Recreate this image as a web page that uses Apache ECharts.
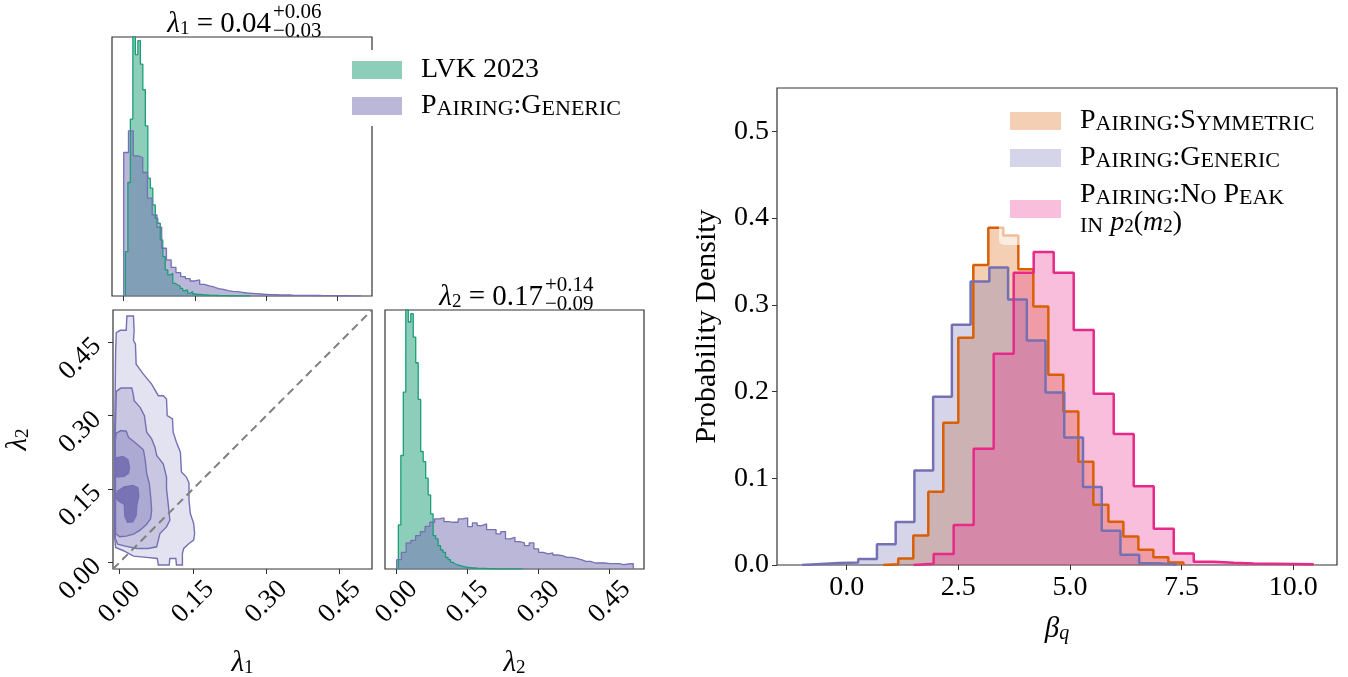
<!DOCTYPE html>
<html>
<head>
<meta charset="utf-8">
<script src="https://cdn.jsdelivr.net/npm/echarts@6/dist/echarts.min.js"></script>
<style>
html, body { margin: 0; padding: 0; background: #fff; }
#container { width: 1348px; height: 677px; }
</style>
</head>
<body>
<div id="container"></div>
<script>
// ---- right panel: beta_q histograms, 20 equal bins each (density) ----
var symRange = [0.82, 7.54];
var symDensity = [0.001, 0.0076, 0.034, 0.0845, 0.164, 0.262, 0.346, 0.389, 0.380, 0.341,
    0.298, 0.2195, 0.177, 0.119, 0.0696, 0.050, 0.033, 0.0177, 0.0088, 0.003];
var genRange = [-1.0, 7.39];
var genDensity = [0.0012, 0.0023, 0.003, 0.0069, 0.024, 0.0496, 0.109, 0.194, 0.277, 0.327,
    0.343, 0.306, 0.259, 0.199, 0.147, 0.090, 0.0396, 0.0119, 0.0019, 0.0006];
var noPeakRange = [1.50, 10.46];
var noPeakDensity = [0.0015, 0.0127, 0.046, 0.134, 0.2437, 0.337, 0.361, 0.337, 0.271, 0.1976,
    0.151, 0.0907, 0.0419, 0.0134, 0.0038, 0.0027, 0.0018, 0.0015, 0.0012, 0.0008];
var betaTicks = [0, 2.5, 5, 7.5, 10];
var densityTicks = [0, 0.1, 0.2, 0.3, 0.4, 0.5];

// ---- corner plot: lambda histograms, 50 equal bins each (relative counts) ----
var lvkLam1Range = [0.0035, 0.266];
var lvkLam1Counts = [133, 340, 530, 800, 723, 765, 695, 618, 510, 353,
    323, 273, 233, 218, 168, 118, 78, 63, 68, 38,
    33, 30, 23, 16, 18, 8, 13, 6, 5, 5,
    4, 3, 3, 2, 2, 2, 1.5, 1, 1, 1,
    1, 0.8, 0.6, 0.5, 0.5, 0.4, 0.3, 0.3, 0.2, 0.2];
var genLam1Range = [0, 0.5];
var genLam1Counts = [430, 495, 420, 415, 370, 293, 243, 206, 143, 108,
    86, 70, 58, 52, 45, 48, 35, 30, 27, 22,
    20, 16, 14, 13, 11, 9, 8, 7, 6, 5,
    4, 4, 3, 3, 3, 2, 2, 2, 2, 1.5,
    1.5, 1.2, 1, 1, 1, 0.8, 0.8, 0.6, 0.6, 0.5];
var lvkLam2Range = [0.0035, 0.266];
var lvkLam2Counts = [132, 340, 530, 800, 740, 765, 695, 618, 508, 352,
    322, 272, 222, 165, 100, 90, 70, 57, 50, 35,
    28, 20, 15, 12, 10, 8, 6, 5, 4, 3,
    3, 2, 2, 2, 1.5, 1, 1, 1, 0.8, 0.6,
    0.5, 0.5, 0.4, 0.3, 0.3, 0.2, 0.2, 0.2, 0.1, 0.1];
var genLam2Range = [0, 0.5];
var genLam2Counts = [28, 50, 78, 86, 100, 112, 128, 140, 150, 153,
    142, 140, 140, 150, 153, 127, 138, 130, 135, 118,
    118, 105, 112, 90, 95, 82, 78, 70, 78, 60,
    50, 45, 48, 42, 40, 35, 35, 32, 28, 23,
    23, 18, 18, 18, 16, 16, 16, 13, 15, 16];
var lamTicks = [0, 0.15, 0.3, 0.45];

// ---- 2D credible contours of Pairing:Generic in (lambda1, lambda2), outer to inner ----
var contourOuter = [[0.0149, 0.5037], [0.0284, 0.5037], [0.0297, 0.4732], [0.0284, 0.4542], [0.0324, 0.4460],
    [0.0338, 0.4053], [0.0486, 0.3849], [0.0655, 0.3646], [0.0791, 0.3408], [0.0892, 0.3408],
    [0.0959, 0.3340], [0.0973, 0.3001], [0.1081, 0.2933], [0.1095, 0.2661], [0.1162, 0.2458],
    [0.1243, 0.2254], [0.1264, 0.1847], [0.1365, 0.1745], [0.1419, 0.1623], [0.1419, 0.1270],
    [0.1446, 0.0998], [0.1514, 0.0794], [0.1534, 0.0591], [0.1514, 0.0455], [0.1419, 0.0387],
    [0.1311, 0.0285], [0.1284, 0.0183], [0.1284, -0.0054], [0.1162, -0.0054], [0.1149, 0.0081],
    [0.1027, 0.0081], [0.1014, -0.0054], [0.0791, -0.0054], [0.0770, 0.0081], [0.0554, 0.0102],
    [0.0284, 0.0129], [0.0081, 0.0238], [-0.0081, 0.0306], [-0.0108, 0.0591], [-0.0101, 0.2627],
    [-0.0081, 0.4325], [-0.0068, 0.4698], [0.0014, 0.4745], [0.0135, 0.4745]];
var contourMid = [[-0.0068, 0.3496], [0.0027, 0.3564], [0.0250, 0.3564], [0.0284, 0.3408], [0.0297, 0.3306],
    [0.0419, 0.3170], [0.0507, 0.3001], [0.0554, 0.2661], [0.0655, 0.2525], [0.0723, 0.2356],
    [0.0757, 0.2186], [0.0892, 0.2016], [0.0959, 0.1745], [0.0959, 0.1507], [0.0993, 0.1202],
    [0.1027, 0.0862], [0.0959, 0.0726], [0.0824, 0.0591], [0.0757, 0.0319], [0.0588, 0.0285],
    [0.0351, 0.0285], [0.0115, 0.0333], [-0.0041, 0.0373], [-0.0088, 0.0489], [-0.0088, 0.2627]];
var contourInner = [[-0.0068, 0.2641], [0.0027, 0.2695], [0.0135, 0.2682], [0.0182, 0.2559], [0.0284, 0.2478],
    [0.0385, 0.2390], [0.0486, 0.2301], [0.0520, 0.2118], [0.0554, 0.1813], [0.0608, 0.1609],
    [0.0635, 0.1337], [0.0655, 0.1066], [0.0635, 0.0896], [0.0554, 0.0781], [0.0419, 0.0659],
    [0.0284, 0.0577], [0.0135, 0.0536], [0.0000, 0.0523], [-0.0081, 0.0591], [-0.0088, 0.2492]];
var contourCoreTop = [[-0.0081, 0.2138], [0.0068, 0.2166], [0.0169, 0.2098], [0.0203, 0.1948], [0.0182, 0.1826],
    [0.0095, 0.1758], [-0.0054, 0.1745], [-0.0081, 0.1813]];
var contourCoreLow = [[-0.0041, 0.1460], [0.0095, 0.1541], [0.0270, 0.1575], [0.0372, 0.1527], [0.0392, 0.1351],
    [0.0351, 0.1168], [0.0338, 0.0964], [0.0270, 0.0828], [0.0162, 0.0821], [0.0108, 0.0944],
    [0.0095, 0.1188], [-0.0041, 0.1270], [-0.0081, 0.1351]];
var contours = [contourOuter, contourMid, contourInner, contourCoreTop, contourCoreLow];
var contourFill = ['#e3e2f0', '#c8c6e1', '#aca9d3', '#7873b5', '#7873b5'];
var lam2dRange = [-0.0135, 0.516];

var FONT = 'Liberation Serif';
var GREEN = '#1b9e77', PURPLE = '#7570b3', ORANGE = '#d95f02', PINK = '#e7298a';

// histogram outline as a stepped path: (edge_i, h_i) with drops to 0 at both ends
function stepPoints(range, heights) {
    var n = heights.length, w = (range[1] - range[0]) / n;
    var pts = [[range[0], 0]];
    for (var i = 0; i < n; i++) pts.push([range[0] + i * w, heights[i]]);
    pts.push([range[1], 0]);
    return pts;
}

function histSeries(name, range, heights, axis, color, fill, width) {
    return {
        name: name, type: 'line', step: 'end', xAxisIndex: axis, yAxisIndex: axis,
        data: stepPoints(range, heights), symbol: 'none', silent: true,
        lineStyle: { color: color, width: width }, itemStyle: { color: color },
        areaStyle: { color: fill, opacity: 1 }, clip: true
    };
}

var richBase = {
    c: { fontFamily: FONT, fontSize: 28, color: '#000', verticalAlign: 'bottom' },
    sc: { fontFamily: FONT, fontSize: 22, lineHeight: 22, color: '#000', verticalAlign: 'bottom' },
    i: { fontFamily: FONT, fontSize: 28, fontStyle: 'italic', color: '#000', verticalAlign: 'bottom' },
    sub: { fontFamily: FONT, fontSize: 19, fontStyle: 'normal', lineHeight: 12, color: '#000', verticalAlign: 'bottom' }
};
var legendNames = {
    'LVK 2023': '{c|LVK 2023}',
    'Pairing:Generic': '{c|P}{sc|AIRING}{c|:G}{sc|ENERIC}',
    'Pairing:Symmetric': '{c|P}{sc|AIRING}{c|:S}{sc|YMMETRIC}',
    'Pairing:No Peak in p2(m2)': '{c|P}{sc|AIRING}{c|:N}{sc|O} {c|P}{sc|EAK}\n{sc|IN} {i|p}{sub|2}{c|(}{i|m}{sub|2}{c|)}'
};

function cornerTicks() {
    return { show: true, customValues: lamTicks, length: 5, lineStyle: { color: '#333', width: 1 } };
}
function cornerLabels(isY) {
    return {
        show: true, customValues: lamTicks, rotate: 45, fontFamily: FONT, fontSize: 27, color: '#000',
        align: isY ? 'right' : 'center', verticalAlign: 'middle', margin: isY ? 16 : 33,
        formatter: function (v) { return v.toFixed(2); }
    };
}
var lamName = {
    l: { fontFamily: FONT, fontSize: 29, fontStyle: 'italic', color: '#000', verticalAlign: 'bottom' },
    s: { fontFamily: FONT, fontSize: 19, lineHeight: 12, color: '#000', verticalAlign: 'bottom' }
};
var noLine = { show: false, onZero: false };

var chart = echarts.init(document.getElementById('container'));

var option = {
    animation: false,
    backgroundColor: '#fff',
    grid: [
        { left: 112, top: 37, width: 260, height: 259, show: true, borderColor: '#333', borderWidth: 1.2, outerBoundsMode: 'none' },
        { left: 113, top: 310, width: 259, height: 259, show: true, borderColor: '#333', borderWidth: 1.2, outerBoundsMode: 'none' },
        { left: 385, top: 310, width: 259, height: 259, show: true, borderColor: '#333', borderWidth: 1.2, outerBoundsMode: 'none' },
        { left: 777, top: 88, width: 560, height: 477, show: true, borderColor: '#333', borderWidth: 1.2, outerBoundsMode: 'none' }
    ],
    xAxis: [
        { gridIndex: 0, type: 'value', min: -0.0247, max: 0.523, axisLine: noLine,
          axisTick: cornerTicks(), axisLabel: { show: false }, splitLine: { show: false } },
        { gridIndex: 1, type: 'value', min: lam2dRange[0], max: lam2dRange[1], axisLine: noLine,
          axisTick: cornerTicks(), axisLabel: cornerLabels(false), splitLine: { show: false },
          name: '{l|λ}{s|1}', nameLocation: 'middle', nameGap: 80, nameTextStyle: { rich: lamName } },
        { gridIndex: 2, type: 'value', min: -0.0247, max: 0.5227, axisLine: noLine,
          axisTick: cornerTicks(), axisLabel: cornerLabels(false), splitLine: { show: false },
          name: '{l|λ}{s|2}', nameLocation: 'middle', nameGap: 80, nameTextStyle: { rich: lamName } },
        { gridIndex: 3, type: 'value', min: -1.56, max: 10.98, axisLine: noLine,
          axisTick: { customValues: betaTicks, length: 5, lineStyle: { color: '#333' } },
          axisLabel: { customValues: betaTicks, fontFamily: FONT, fontSize: 28, color: '#000', margin: 9,
                       formatter: function (v) { return v.toFixed(1); } },
          splitLine: { show: false },
          name: '{b|β}{q|q}', nameLocation: 'middle', nameGap: 50,
          nameTextStyle: { rich: {
              b: { fontFamily: FONT, fontSize: 29, fontStyle: 'italic', color: '#000', verticalAlign: 'bottom' },
              q: { fontFamily: FONT, fontSize: 20, fontStyle: 'italic', lineHeight: 12, color: '#000', verticalAlign: 'bottom' } } } }
    ],
    yAxis: [
        { gridIndex: 0, type: 'value', min: 0, max: 776, show: false },
        { gridIndex: 1, type: 'value', min: lam2dRange[0], max: lam2dRange[1], axisLine: noLine,
          axisTick: cornerTicks(), axisLabel: cornerLabels(true), splitLine: { show: false },
          name: '{l|λ}{s|2}', nameLocation: 'middle', nameGap: 80, nameRotate: 90, nameTextStyle: { rich: lamName } },
        { gridIndex: 2, type: 'value', min: 0, max: 776, show: false },
        { gridIndex: 3, type: 'value', min: 0, max: 0.55, axisLine: noLine,
          axisTick: { customValues: densityTicks, length: 5, lineStyle: { color: '#333' } },
          axisLabel: { customValues: densityTicks, fontFamily: FONT, fontSize: 28, color: '#000', margin: 8,
                       formatter: function (v) { return v.toFixed(1); } },
          splitLine: { show: false },
          name: 'Probability Density', nameLocation: 'middle', nameGap: 55,
          nameTextStyle: { fontFamily: FONT, fontSize: 30, color: '#000' } }
    ],
    legend: [
        {
            orient: 'vertical', left: 345, top: 50, padding: [6, 8, 6, 7], itemGap: 8,
            itemWidth: 50, itemHeight: 18, backgroundColor: '#fff', selectedMode: false, z: 10,
            textStyle: { fontFamily: FONT, fontSize: 28, lineHeight: 28, color: '#000', padding: [0, 0, 0, 14], rich: richBase },
            formatter: function (n) { return legendNames[n]; },
            data: [
                { name: 'LVK 2023', icon: 'rect', itemStyle: { color: 'rgba(27,158,119,0.5)', borderWidth: 0 } },
                { name: 'Pairing:Generic', icon: 'rect', itemStyle: { color: 'rgba(117,112,179,0.5)', borderWidth: 0 } }
            ]
        },
        {
            orient: 'vertical', left: 999, top: 99, padding: [8, 10, 8, 11], itemGap: 9,
            itemWidth: 51, itemHeight: 18, backgroundColor: 'rgba(255,255,255,0.6)', borderRadius: 5,
            selectedMode: false, z: 10,
            textStyle: { fontFamily: FONT, fontSize: 28, lineHeight: 28, color: '#000', padding: [0, 0, 0, 14], rich: richBase },
            formatter: function (n) { return legendNames[n]; },
            data: [
                { name: 'Pairing:Symmetric', icon: 'rect', itemStyle: { color: 'rgba(217,95,2,0.3)', borderWidth: 0 } },
                { name: 'Pairing:Generic', icon: 'rect', itemStyle: { color: 'rgba(117,112,179,0.3)', borderWidth: 0 } },
                { name: 'Pairing:No Peak in p2(m2)', icon: 'rect', itemStyle: { color: 'rgba(231,41,138,0.3)', borderWidth: 0 } }
            ]
        }
    ],
    graphic: [
        { type: 'text', x: 271, y: 39, style: { text: '{l|λ}{s|1}{m| = 0.04}', align: 'right', verticalAlign: 'bottom',
            rich: { l: lamName.l, s: lamName.s, m: { fontFamily: FONT, fontSize: 29, color: '#000', verticalAlign: 'bottom' } } } },
        { type: 'text', x: 273, y: 12, style: { text: '+0.06', fontFamily: FONT, fontSize: 21, fill: '#000', align: 'left', verticalAlign: 'middle' } },
        { type: 'text', x: 273, y: 31, style: { text: '\u22120.03', fontFamily: FONT, fontSize: 21, fill: '#000', align: 'left', verticalAlign: 'middle' } },
        { type: 'text', x: 543, y: 312, style: { text: '{l|λ}{s|2}{m| = 0.17}', align: 'right', verticalAlign: 'bottom',
            rich: { l: lamName.l, s: lamName.s, m: { fontFamily: FONT, fontSize: 29, color: '#000', verticalAlign: 'bottom' } } } },
        { type: 'text', x: 545, y: 285, style: { text: '+0.14', fontFamily: FONT, fontSize: 21, fill: '#000', align: 'left', verticalAlign: 'middle' } },
        { type: 'text', x: 545, y: 304, style: { text: '\u22120.09', fontFamily: FONT, fontSize: 21, fill: '#000', align: 'left', verticalAlign: 'middle' } }
    ],
    series: [
        histSeries('Pairing:Symmetric', symRange, symDensity, 3, ORANGE, 'rgba(217,95,2,0.3)', 2.5),
        histSeries('Pairing:Generic', genRange, genDensity, 3, PURPLE, 'rgba(117,112,179,0.3)', 2.5),
        histSeries('Pairing:No Peak in p2(m2)', noPeakRange, noPeakDensity, 3, PINK, 'rgba(231,41,138,0.3)', 2.5),
        histSeries('LVK 2023', lvkLam1Range, lvkLam1Counts, 0, GREEN, 'rgba(27,158,119,0.5)', 1.3),
        histSeries('Pairing:Generic', genLam1Range, genLam1Counts, 0, PURPLE, 'rgba(117,112,179,0.5)', 1.3),
        histSeries('LVK 2023', lvkLam2Range, lvkLam2Counts, 2, GREEN, 'rgba(27,158,119,0.5)', 1.3),
        histSeries('Pairing:Generic', genLam2Range, genLam2Counts, 2, PURPLE, 'rgba(117,112,179,0.5)', 1.3),
        {
            name: 'contours', type: 'custom', xAxisIndex: 1, yAxisIndex: 1, silent: true, clip: true,
            data: contours.map(function (c, i) { return [c[0][0], c[0][1], i]; }),
            renderItem: function (params, api) {
                var pts = contours[params.dataIndex].map(function (p) { return api.coord(p); });
                return {
                    type: 'polygon', shape: { points: pts },
                    style: { fill: contourFill[params.dataIndex], stroke: PURPLE, lineWidth: 1.4 }
                };
            }
        },
        {
            name: 'diagonal', type: 'line', xAxisIndex: 1, yAxisIndex: 1, silent: true, symbol: 'none',
            data: [[lam2dRange[0], lam2dRange[0]], [lam2dRange[1], lam2dRange[1]]],
            lineStyle: { color: '#808080', width: 2, type: [8, 5] }, z: 5
        }
    ]
};

chart.setOption(option, true);
window.onresize = function () {
    chart.resize();
};
</script>
</body>
</html>
